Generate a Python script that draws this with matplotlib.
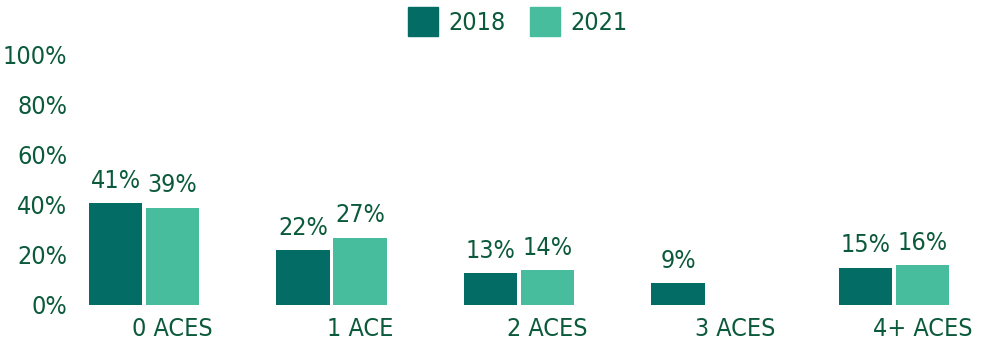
import numpy as np
import matplotlib.pyplot as plt
from matplotlib.patches import Patch

categories = ["0 ACES", "1 ACE", "2 ACES", "3 ACES", "4+ ACES"]
values_2018 = [41, 22, 13, 9, 15]
values_2021 = [39, 27, 14, np.nan, 16]
yticks = [0, 20, 40, 60, 80, 100]

dark = "#036c64"
light = "#47bd9d"
ink = "#0c5a3c"

plt.rcParams["font.family"] = ["DejaVu Sans"]
plt.rcParams["font.stretch"] = "condensed"

fig = plt.figure(figsize=(9.81, 3.48), dpi=100)
ax = fig.add_axes([70 / 981, 43 / 348, 911 / 981, 250 / 348])

x = np.arange(len(categories))
w = 0.283
off = 0.152

b1 = ax.bar(x - off, values_2018, w, color=dark, label="2018")
b2 = ax.bar(x + off, values_2021, w, color=light, label="2021")

for rects, vals in [(b1, values_2018), (b2, values_2021)]:
    for r, v in zip(rects, vals):
        if np.isnan(v):
            continue
        ax.text(r.get_x() + r.get_width() / 2, v + 4, f"{v:.0f}%",
                ha="center", va="bottom", fontsize=18, color=ink, clip_on=False)

ax.set_xlim((70 - 144) / 187.5, (981 - 144) / 187.5)
ax.set_ylim(0, 100)
ax.set_yticks(yticks)
ax.set_yticklabels([f"{t}%" for t in yticks], fontsize=18, color=ink)
ax.set_xticks(x + off)
ax.set_xticklabels(categories, fontsize=18, color=ink)
ax.tick_params(length=0)
ax.tick_params(axis="x", pad=9)
ax.tick_params(axis="y", pad=2)
for s in ax.spines.values():
    s.set_visible(False)

handles = [Patch(color=dark), Patch(color=light)]
fig.legend(handles, ["2018", "2021"], loc="upper center", ncol=2,
           bbox_to_anchor=(0.528, 1.045), frameon=False, fontsize=18,
           labelcolor=ink, handlelength=1.2, handleheight=1.4,
           handletextpad=0.4, columnspacing=1.0)

fig.savefig("out.png", dpi=100)
